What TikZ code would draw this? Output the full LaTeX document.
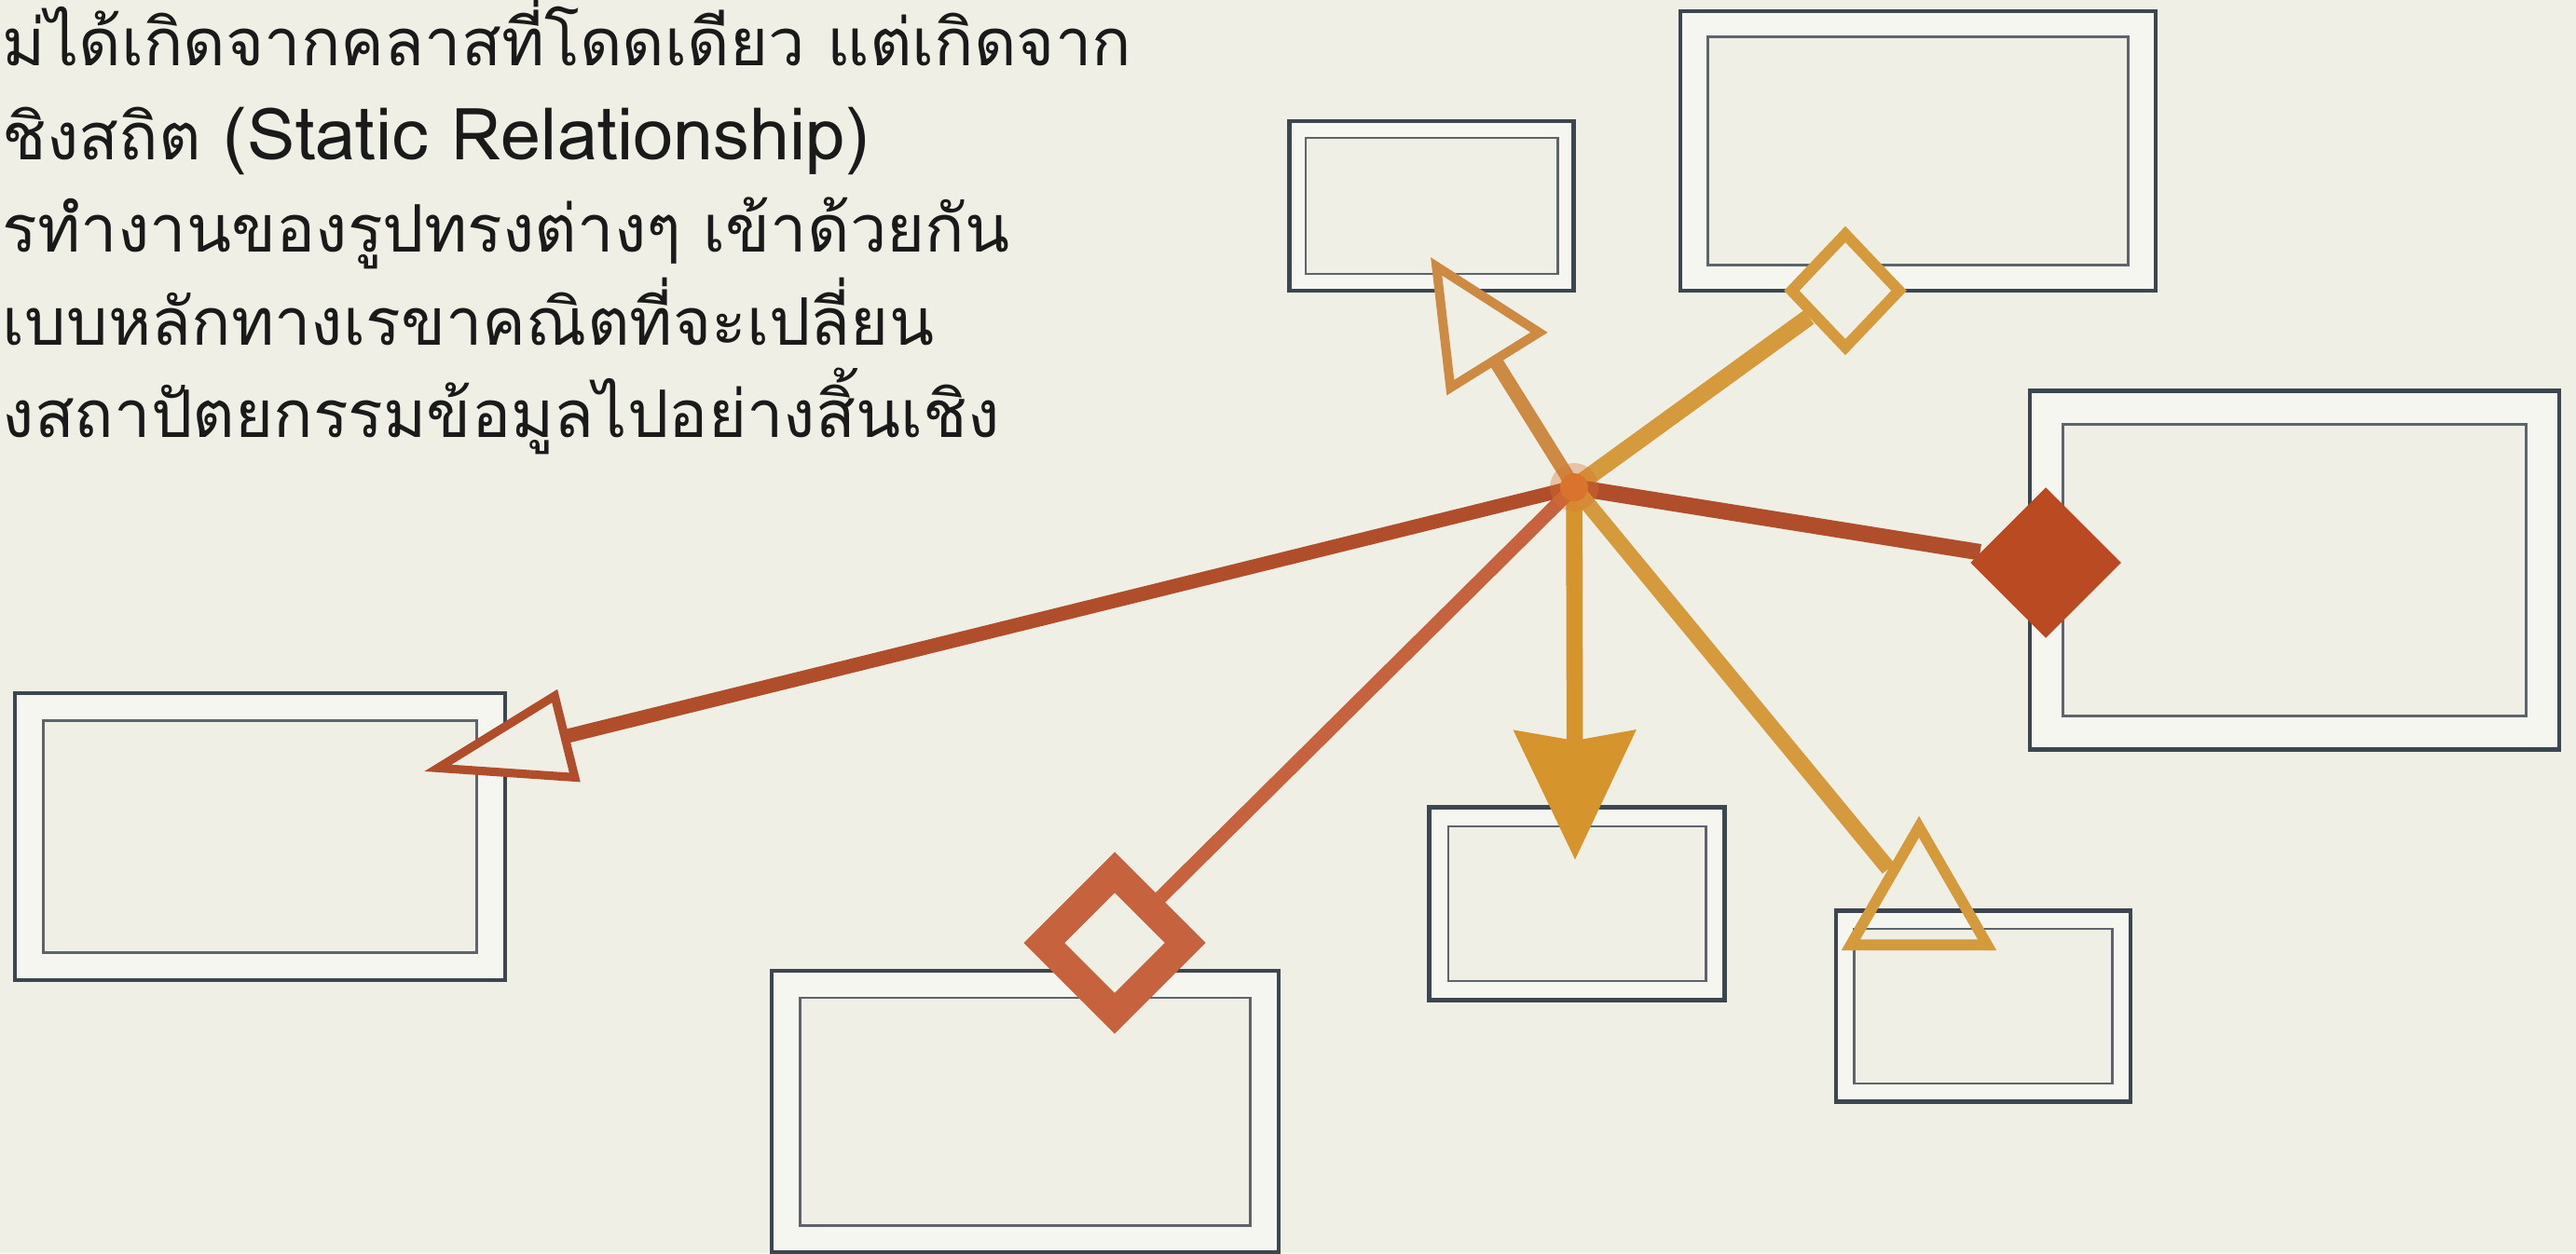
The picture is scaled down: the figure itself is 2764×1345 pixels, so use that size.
\documentclass[tikz,border=0pt]{standalone}
\usepackage{fontspec}
\newfontfamily\thaifont[Script=Thai]{Loma}
\usetikzlibrary{arrows.meta,shapes.geometric}
\definecolor{bg}{HTML}{EFEFE5}
\definecolor{band}{HTML}{F5F6F0}
\definecolor{boxdark}{HTML}{3C4650}
\definecolor{boxlight}{HTML}{5E646B}
\definecolor{ink}{HTML}{1A1A1A}
\definecolor{rust}{HTML}{B04E2C}
\definecolor{rustdk}{HTML}{BA4A22}
\definecolor{tan}{HTML}{CC8A42}
\definecolor{gold}{HTML}{D49A3C}
\definecolor{goldfill}{HTML}{D6952C}
\definecolor{terra}{HTML}{C6623E}
\definecolor{hubcol}{HTML}{D9732E}
\begin{document}
\begin{tikzpicture}[x=0.01cm,y=-0.01cm,
  txt/.style={anchor=base west, inner sep=0, text=ink, font=\thaifont\fontsize{20}{28}\selectfont},
  obox/.style={draw=boxdark, line width=1.3pt, fill=band, inner sep=0},
  ibox/.style={draw=boxlight, line width=0.8pt, fill=bg, inner sep=0},
  conn/.style={line cap=butt},
]
\fill[bg] (0,0) rectangle (2764,1345);
\useasboundingbox (0,0) rectangle (2764,1345);

% text
\node[txt] (t1) at (2,70) {ม่ได้เกิดจากคลาสที่โดดเดียว แต่เกิดจาก};
\node[txt] (t2) at (2,171) {ชิงสถิต {\fontsize{22}{28}\selectfont (Static Relationship)}};
\node[txt] (t3) at (2,270) {รทำงานของรูปทรงต่างๆ เข้าด้วยกัน};
\node[txt] (t4) at (2,370) {เบบหลักทางเรขาคณิตที่จะเปลี่ยน};
\node[txt] (t5) at (2,469) {งสถาปัตยกรรมข้อมูลไปอย่างสิ้นเชิง};

% boxes
\node[obox, minimum width=3.05cm, minimum height=1.82cm] (b1) at (1536,221) {};
\node[ibox, minimum width=2.70cm, minimum height=1.46cm] (b1in) at (b1.center) {};
\node[obox, minimum width=5.10cm, minimum height=3.00cm] (b2) at (2058,162) {};
\node[ibox, minimum width=4.50cm, minimum height=2.45cm] (b2in) at (b2.center) {};
\node[obox, minimum width=5.68cm, minimum height=3.85cm] (b3) at (2462,612) {};
\node[ibox, minimum width=4.96cm, minimum height=3.13cm] (b3in) at (b3.center) {};
\node[obox, minimum width=5.26cm, minimum height=3.08cm] (b4) at (279,898) {};
\node[ibox, minimum width=4.64cm, minimum height=2.49cm] (b4in) at (b4.center) {};
\node[obox, minimum width=5.44cm, minimum height=3.02cm] (b5) at (1100,1193) {};
\node[ibox, minimum width=4.83cm, minimum height=2.44cm] (b5in) at (b5.center) {};
\node[obox, minimum width=3.17cm, minimum height=2.07cm] (b6) at (1692,970) {};
\node[ibox, minimum width=2.76cm, minimum height=1.66cm] (b6in) at (b6.center) {};
\node[obox, minimum width=3.16cm, minimum height=2.05cm] (b7) at (2128,1080) {};
\node[ibox, minimum width=2.77cm, minimum height=1.66cm] (b7in) at (b7.center) {};

% hub and end points
\coordinate (hub) at (1689,523);
\coordinate (tip4) at (455,828);
\coordinate (tip1) at (1535,276);
\coordinate (tip6) at (1690,923);

% head shapes
\node[diamond, draw=gold, line width=3.4pt, fill=bg, inner sep=0, minimum width=1.2cm, minimum height=1.26cm] (d2) at (1980,312) {};
\node[diamond, fill=rustdk, inner sep=0, minimum width=1.62cm, minimum height=1.62cm] (d3) at (2195,604) {};
\node[diamond, draw=terra, line width=8.8pt, fill=bg, inner sep=0, minimum width=1.64cm, minimum height=1.64cm] (d5) at (1196,1012) {};
\node[regular polygon, regular polygon sides=3, draw=gold, line width=3.3pt, inner sep=0, minimum size=1.69cm] (t7) at (2059,972) {};

% connectors
\draw[conn, draw=rust, line width=4.3pt, -{Triangle[length=1.6cm,width=1.0cm,fill=bg,line width=2.6pt]}] (hub) -- (tip4);
\draw[conn, draw=tan, line width=4.3pt, -{Triangle[length=1.35cm,width=1.25cm,fill=bg,line width=2.8pt]}] (hub) -- (tip1);
\draw[conn, draw=gold, line width=5.2pt] (hub) -- (d2);
\draw[conn, draw=rust, line width=5pt] (hub) -- (d3);
\draw[conn, draw=goldfill, line width=5pt, -{Stealth[length=1.38cm,width=1.28cm,inset=0.1cm]}] (hub) -- (tip6);
\draw[conn, draw=gold, line width=4.8pt] (hub) -- (t7);
\draw[conn, draw=terra, line width=4.2pt] (hub) -- (d5);

% hub
\fill[hubcol, opacity=0.35] (hub) circle (26);
\fill[hubcol] (hub) circle (15);
\end{tikzpicture}
\end{document}
